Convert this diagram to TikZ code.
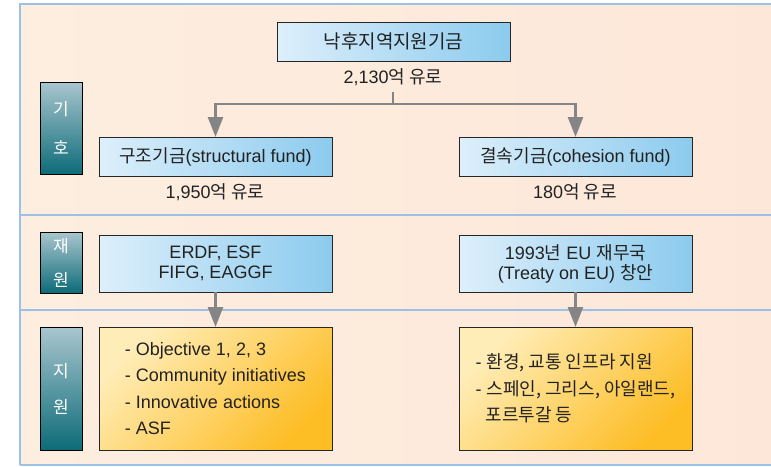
\documentclass[tikz,border=0pt]{standalone}
\usepackage{fontspec}
\setmainfont{Liberation Sans}
\newfontfamily\kr{Noto Sans CJK KR}
\usetikzlibrary{arrows.meta}
\definecolor{peachL}{HTML}{FDEEDF}
\definecolor{peachR}{HTML}{FDE7D9}
\definecolor{frameblue}{HTML}{9DC1E6}
\definecolor{blueL}{HTML}{DDEFFB}
\definecolor{blueR}{HTML}{8CCBEE}
\definecolor{orangeL}{HTML}{FFEDB8}
\definecolor{orangeR}{HTML}{FDBD25}
\definecolor{tealL}{HTML}{A9C6CE}
\definecolor{tealD}{HTML}{0D6B79}
\definecolor{linkgray}{HTML}{858585}
\definecolor{ink}{HTML}{222222}
\begin{document}
\begin{tikzpicture}[x=1pt,y=-1pt,>={Triangle[length=20pt,width=15pt]},
        every node/.style={inner sep=0pt,outer sep=0pt,text=ink,font=\fontsize{18}{20}\selectfont},
        fundbox/.style={draw=black!85,line width=0.8pt,minimum width=233pt,minimum height=39pt,
            left color=blueL,right color=blueR,align=center},
        listbox/.style={draw=black!85,line width=0.8pt,minimum width=233pt,minimum height=123pt,
            top color=orangeL,bottom color=orangeR,shading angle=45,align=left,
            font=\fontsize{18}{26.5}\selectfont},
        sidebox/.style={draw=black,line width=0.8pt,minimum width=42pt,top color=tealL,bottom color=tealD,
            text=white,align=center,font=\kr\fontsize{17}{20}\selectfont},
        link/.style={draw=linkgray,line width=2.5pt}]
        \useasboundingbox (0,0) rectangle (771,466);

        % background frame and rows
        \shade[left color=peachL,right color=peachR] (20,4) rectangle (790,465);
        \draw[frameblue,line width=2.2pt] (20,465) -- (20,4) -- (790,4);
        \draw[frameblue,line width=2.2pt] (20,215) -- (790,215);
        \draw[frameblue,line width=2.2pt] (20,310) -- (790,310);
        \draw[frameblue,line width=1.5pt] (20,465) -- (790,465);

        % row labels
        \node[sidebox,minimum height=92pt] (rowsym) at (61,128) {기\\[19pt]호};
        \node[sidebox,minimum height=61pt] (rowsrc) at (61,262.5) {재\\[14pt]원};
        \node[sidebox,minimum height=123pt] (rowaid) at (61,388.5) {지\\[16pt]원};

        % funds
        \node[fundbox] (fund) at (393.5,41.5) {\kr\fontsize{19}{20}\selectfont 낙후지역지원기금};
        \node (fundsum) at (393,77) {2,130{\kr 억 유로}};
        \node[fundbox] (struct) at (215.5,156.5) {{\kr 구조기금}(structural fund)};
        \node (structsum) at (215,192) {1,950{\kr 억 유로}};
        \node[fundbox] (cohes) at (575.5,156.5) {{\kr 결속기금}(cohesion fund)};
        \node (cohessum) at (575,192) {180{\kr 억 유로}};

        % sources
        \node[fundbox,minimum height=57pt] (source) at (215.5,263.5) {ERDF, ESF\\FIFG, EAGGF};
        \node[fundbox,minimum height=57pt] (treaty) at (575.5,263.5)
            {1993{\kr 년} EU {\kr 재무국}\\(Treaty on EU) {\kr 창안}};

        % support
        \node[listbox] (objlist) at (215.5,388.5)
            {- Objective 1, 2, 3\\- Community initiatives\\- Innovative actions\\- ASF};
        \node[listbox] (infralist) at (575.5,388.5)
            {- {\kr 환경, 교통 인프라 지원}\\- {\kr 스페인, 그리스, 아일랜드,}\\\ \ {\kr 포르투갈 등}};

        \coordinate (split) at (393,104);
        \draw[link] ([yshift=-6pt]fundsum.south) -- (split);
        \draw[link,->] (split) -| (struct.north);
        \draw[link,->] (split) -| (cohes.north);
        \draw[link,->] (source) -- (objlist);
        \draw[link,->] (treaty) -- (infralist);
\end{tikzpicture}
\end{document}
